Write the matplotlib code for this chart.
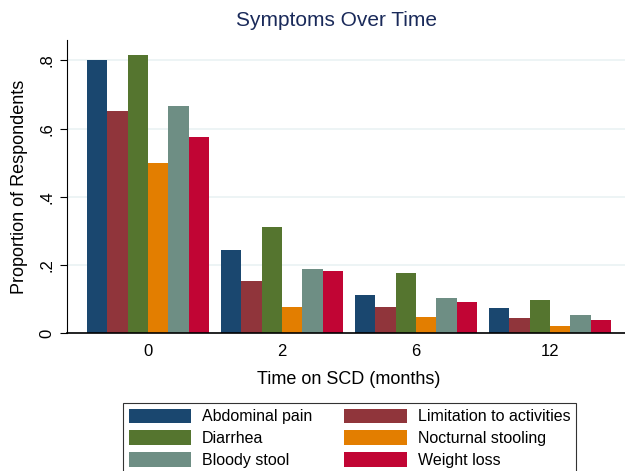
import numpy as np
import matplotlib.pyplot as plt

plt.rcParams['font.family'] = ['Liberation Sans', 'DejaVu Sans']

# data
times = ['0', '2', '6', '12']
symptoms = ['Abdominal pain', 'Limitation to activities', 'Diarrhea',
            'Nocturnal stooling', 'Bloody stool', 'Weight loss']
abdominal = [0.800, 0.243, 0.112, 0.073]
limitation = [0.653, 0.152, 0.076, 0.044]
diarrhea = [0.815, 0.312, 0.176, 0.097]
nocturnal = [0.500, 0.078, 0.049, 0.022]
bloody = [0.667, 0.190, 0.104, 0.054]
weight = [0.577, 0.182, 0.091, 0.038]
series = [abdominal, limitation, diarrhea, nocturnal, bloody, weight]
colors = ['#1a476f', '#90353b', '#55752f', '#e37e00', '#6e8e84', '#c10534']

W, H = 625, 471
fig = plt.figure(figsize=(W / 100, H / 100), dpi=100)
# axes: left 67px, bottom 333px, top 40px, right runs past the edge (631px)
ax = fig.add_axes([67 / W, (H - 333.3) / H, (631 - 67) / W, (333.3 - 40) / H])

x = np.arange(len(times))
bw = 0.152
handles = []
for i, (vals, c) in enumerate(zip(series, colors)):
    b = ax.bar(x + (i - 2.5) * bw, vals, bw, color=c, edgecolor='none',
               label=symptoms[i], zorder=2)
    handles.append(b)

ax.set_xlim(-0.604, 3.604)
ax.set_ylim(0, 0.86)
ax.set_yticks([0, 0.2, 0.4, 0.6, 0.8])
ax.set_yticklabels(['0', '.2', '.4', '.6', '.8'], rotation=90, va='center',
                   fontsize=12)
ax.set_xticks(x)
ax.set_xticklabels(times, fontsize=12)
ax.tick_params(axis='x', length=0, pad=8)
ax.tick_params(axis='y', length=5, width=0.8, pad=4)
ax.grid(axis='y', color='#eaf2f3', linewidth=1.2, zorder=0)
for s in ['top', 'right']:
    ax.spines[s].set_visible(False)
ax.spines['left'].set_linewidth(0.8)
ax.spines['bottom'].set_linewidth(1.2)

ax.set_ylabel('Proportion of Respondents', fontsize=13, labelpad=8)
ax.set_xlabel('Time on SCD (months)', fontsize=13, labelpad=8)
fig.text(337 / W, 1 - 20 / H, 'Symptoms Over Time', fontsize=15,
         color='#1a2a5a', ha='center', va='center')

# legend filled row-wise: left column then right column
col_order = [0, 2, 4, 1, 3, 5]
leg = fig.legend([handles[i] for i in col_order], [symptoms[i] for i in col_order],
                 ncol=2, loc='upper center',
                 bbox_to_anchor=((122 + 577) / 2 / W, 1 - 395 / H),
                 fontsize=11.5, frameon=True, fancybox=False, edgecolor='black',
                 handlelength=3.9, handleheight=1.05, labelspacing=0.36,
                 columnspacing=2.0, borderpad=0.35, handletextpad=0.7)
leg.get_frame().set_linewidth(0.8)

fig.savefig('out.png', dpi=100)
